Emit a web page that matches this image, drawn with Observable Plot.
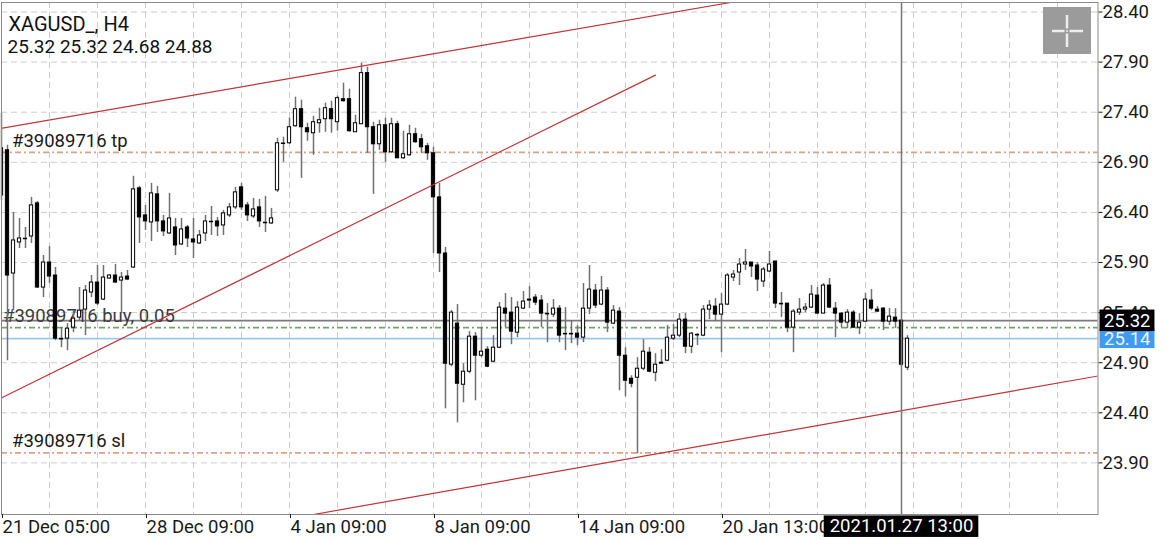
<!DOCTYPE html>
<html><head><meta charset="utf-8">
<script src="https://cdn.jsdelivr.net/npm/d3@7"></script>
<script src="https://cdn.jsdelivr.net/npm/@observablehq/plot@0.6"></script>
<style>
body{margin:0;background:#fff;}
#chart{position:relative;width:1170px;height:540px;overflow:hidden;}
svg{font-family:Roboto, sans-serif;display:block;}
</style></head><body><div id="chart"></div>
<script>
// ---- data (XAGUSD_, H4 bars, index 0 = 21 Dec 05:00) ----
const opens = [26.57,27.02,25.79,26.10,26.14,26.16,26.49,25.65,25.90,25.77,25.14,25.14,25.25,25.35,25.43,25.60,25.70,25.53,25.74,25.77,25.72,25.76,25.85,26.64,26.37,26.30,26.58,26.31,26.19,26.25,26.08,26.25,26.13,26.09,26.19,26.31,26.31,26.27,26.37,26.45,26.65,26.47,26.36,26.45,26.30,26.29,26.62,27.09,27.09,27.26,27.43,27.24,27.19,27.29,27.33,27.43,27.30,27.53,27.53,27.20,27.28,27.79,27.25,27.08,27.27,27.00,27.28,26.94,26.97,27.18,27.13,27.06,26.99,26.55,25.99,24.88,25.29,24.68,24.81,25.16,24.97,25.03,24.91,25.05,25.44,25.40,25.20,25.44,25.53,25.55,25.52,25.39,25.38,25.44,25.19,25.19,25.19,25.15,25.44,25.62,25.48,25.62,25.29,25.41,24.97,24.74,24.75,24.84,25.00,24.80,24.89,24.92,25.14,25.17,25.33,25.06,25.18,25.17,25.43,25.46,25.38,25.48,25.75,25.80,25.88,25.90,25.87,25.71,25.81,25.91,25.49,25.49,25.25,25.40,25.43,25.45,25.57,25.39,25.67,25.44,25.39,25.30,25.40,25.25,25.31,25.52,25.43,25.44,25.31,25.35,25.32,24.85];
const highs = [27.39,27.07,26.40,26.34,26.25,26.55,26.51,25.97,26.06,25.85,25.25,25.29,25.42,25.65,25.67,25.77,25.87,25.87,25.78,25.88,25.80,25.82,26.76,26.66,26.47,26.69,26.66,26.37,26.59,26.34,26.34,26.27,26.34,26.22,26.37,26.46,26.35,26.42,26.49,26.65,26.69,26.50,26.54,26.53,26.56,26.44,27.14,27.15,27.34,27.55,27.52,27.29,27.36,27.44,27.49,27.51,27.56,27.69,27.63,27.37,27.89,27.85,27.30,27.32,27.34,27.34,27.31,27.21,27.27,27.24,27.18,27.09,27.05,26.69,26.05,25.42,25.48,24.89,25.21,25.20,25.25,25.06,25.17,25.50,25.59,25.55,25.51,25.61,25.66,25.58,25.57,25.49,25.53,25.47,25.45,25.32,25.27,25.69,25.87,25.68,25.76,25.65,25.47,25.45,25.05,24.77,24.95,25.13,25.05,24.99,25.03,25.27,25.28,25.39,25.39,25.20,25.19,25.47,25.52,25.54,25.59,25.79,25.82,25.94,26.03,25.90,25.90,25.85,26.01,25.91,25.60,25.49,25.43,25.54,25.49,25.67,25.65,25.69,25.74,25.50,25.40,25.43,25.42,25.39,25.59,25.63,25.46,25.45,25.44,25.44,25.32,25.17];
const lows = [26.52,24.92,25.42,26.04,26.04,26.09,25.64,25.55,25.69,25.12,25.05,25.02,25.20,25.32,25.17,25.55,25.47,25.52,25.73,25.69,25.39,25.72,25.84,26.09,26.22,26.11,26.20,26.16,26.18,25.97,26.07,26.05,25.94,26.08,26.11,26.17,26.16,26.17,26.35,26.43,26.42,26.31,26.34,26.25,26.20,26.28,26.60,26.90,27.08,27.25,26.74,27.11,26.97,27.19,27.20,27.19,27.21,27.50,27.20,27.20,27.28,26.99,26.58,27.02,26.90,26.99,26.94,26.93,26.96,27.09,26.99,26.92,25.99,25.80,24.44,24.86,24.30,24.50,24.79,24.52,24.95,24.85,24.90,25.04,25.25,25.08,25.15,25.43,25.44,25.47,25.25,25.10,25.35,25.10,25.02,25.09,25.07,25.10,25.38,25.44,25.47,25.20,25.28,24.62,24.56,24.65,23.99,24.82,24.80,24.71,24.89,24.91,25.12,25.15,24.99,24.99,25.07,25.16,25.33,25.31,25.00,25.47,25.71,25.67,25.82,25.75,25.61,25.65,25.80,25.44,25.35,25.20,25.00,25.37,25.40,25.44,25.39,25.39,25.44,25.15,25.25,25.24,25.24,25.18,25.30,25.42,25.40,25.22,25.27,25.24,24.86,24.82];
const closes = [27.04,25.77,26.12,26.14,26.14,26.47,25.65,25.90,25.76,25.14,25.14,25.24,25.34,25.42,25.62,25.70,25.49,25.75,25.77,25.70,25.75,25.73,26.63,26.35,26.31,26.59,26.31,26.21,26.34,26.07,26.23,26.14,26.10,26.17,26.31,26.31,26.26,26.39,26.45,26.60,26.45,26.37,26.43,26.31,26.30,26.34,27.09,27.09,27.25,27.43,27.25,27.20,27.30,27.32,27.44,27.33,27.54,27.51,27.21,27.29,27.79,27.25,27.08,27.27,27.00,27.28,26.94,26.98,27.18,27.10,27.05,26.99,26.55,25.99,24.89,25.40,24.69,24.81,25.16,24.97,25.01,24.86,25.05,25.45,25.39,25.21,25.45,25.51,25.52,25.50,25.39,25.39,25.44,25.17,25.19,25.19,25.15,25.44,25.63,25.47,25.62,25.30,25.42,24.97,24.72,24.69,24.84,25.01,24.81,24.88,24.90,25.15,25.17,25.33,25.06,25.19,25.18,25.43,25.47,25.38,25.48,25.77,25.78,25.88,25.90,25.86,25.73,25.83,25.88,25.49,25.49,25.25,25.41,25.43,25.45,25.58,25.39,25.67,25.45,25.39,25.30,25.40,25.25,25.30,25.53,25.44,25.41,25.31,25.36,25.31,24.88,25.14];

const yTicks = [23.9, 24.4, 24.9, 25.4, 25.9, 26.4, 26.9, 27.4, 27.9, 28.4];
const gridBars = [0,8,16,24,32,40,48,56,64,72,80,88,96,104,112,120,128,136,144,152,160,168,176];
const xLabelBars = [0, 24, 48, 72, 96, 120];
const xLabels = ["21 Dec 05:00", "28 Dec 09:00", "4 Jan 09:00", "8 Jan 09:00", "14 Jan 09:00", "20 Jan 13:00"];

const trendId = ["a", "a", "b", "b", "c", "c"];
const trendBar = [-1, 122, -1, 109, 52, 183];
const trendPrice = [27.23, 28.50, 24.52, 27.77, 23.385, 24.77];

const tpPrice = 27.00, slPrice = 24.00, orderPrice = 25.32, askPrice = 25.25, bidPrice = 25.14;
const tpLabel = "#39089716 tp", slLabel = "#39089716 sl", orderLabel = "#39089716 buy, 0.05";
const crossBar = 150, crossLabel = "2021.01.27 13:00";
const titleText = "XAGUSD_, H4", ohlcText = "25.32 25.32 24.68 24.88";

// ---- build ----
const candles = opens.map((o, i) => ({i, open: o, high: highs[i], low: lows[i], close: closes[i]}));
const bodies = candles.filter(d => Math.abs(d.close - d.open) >= 0.005);
const dojis = candles.filter(d => Math.abs(d.close - d.open) < 0.005);
const trend = trendId.map((id, k) => ({id, i: trendBar[k], p: trendPrice[k]}));
const HW = 0.27;
const FS = 18.5;
const dashDot = "6,3,2,3";

const chart = Plot.plot({
  width: 1170, height: 540,
  marginLeft: 1, marginRight: 72.5, marginTop: 2, marginBottom: 26,
  style: {fontFamily: "Roboto, sans-serif", background: "#fff", overflow: "visible"},
  x: {type: "linear", domain: [0, 182.75], axis: null},
  y: {type: "linear", domain: [23.385, 28.495], axis: null},
  marks: [
    Plot.ruleY(yTicks, {stroke: "#cccccc", strokeDasharray: "6,4"}),
    Plot.ruleX(gridBars, {stroke: "#cccccc", strokeDasharray: "6,4"}),
    Plot.ruleY([tpPrice, slPrice], {stroke: "#dca184", strokeWidth: 1.8, strokeDasharray: dashDot}),
    Plot.ruleY([askPrice], {stroke: "#6fa36b", strokeWidth: 1.8, strokeDasharray: dashDot}),
    Plot.ruleY([bidPrice], {stroke: "#9cc8ef", strokeWidth: 1.6}),
    Plot.ruleY([orderPrice], {stroke: "#7a7a7a", strokeWidth: 1.6}),
    Plot.text([titleText], {text: d => d, frameAnchor: "top-left", textAnchor: "start", lineAnchor: "top", dx: 7, dy: 14, fontSize: 20, fill: "#111"}),
    Plot.text([ohlcText], {text: d => d, frameAnchor: "top-left", textAnchor: "start", lineAnchor: "top", dx: 6, dy: 37, fontSize: 19, fill: "#111"}),
    Plot.text([tpPrice], {y: d => d, text: () => tpLabel, frameAnchor: "left", textAnchor: "start", lineAnchor: "middle", dx: 10.5, dy: -11.5, fontSize: FS, fill: "#1a1a1a"}),
    Plot.text([slPrice], {y: d => d, text: () => slLabel, frameAnchor: "left", textAnchor: "start", lineAnchor: "middle", dx: 10.5, dy: -11.5, fontSize: FS, fill: "#1a1a1a"}),
    Plot.text([orderPrice], {y: d => d, text: () => orderLabel, frameAnchor: "left", textAnchor: "start", lineAnchor: "middle", dx: 1.5, dy: -5, fontSize: FS, fill: "#3c3c3c"}),
    Plot.ruleX(candles, {x: "i", y1: "low", y2: "high", stroke: "#707070", strokeWidth: 1.5}),
    Plot.rect(bodies, {x1: d => d.i - HW, x2: d => d.i + HW, y1: "open", y2: "close",
      fill: d => d.close > d.open ? "#ffffff" : "#000000", stroke: "#000", strokeWidth: 1, clip: true}),
    Plot.ruleY(dojis, {y: "close", x1: d => d.i - HW - 0.08, x2: d => d.i + HW + 0.08, stroke: "#000", strokeWidth: 1.6, clip: true}),
    Plot.line(trend, {x: "i", y: "p", z: "id", stroke: "#bf3438", strokeWidth: 1.2, clip: true}),
    Plot.ruleX([crossBar], {stroke: "#777", strokeWidth: 1.5}),
    Plot.frame({stroke: "#8a8a8a"}),
    Plot.axisY({ticks: yTicks, anchor: "right", tickSize: 4, tickPadding: 0.5, fontSize: FS, color: "#1a1a1a", tickFormat: d => d.toFixed(2), label: null}),
    Plot.axisX({ticks: xLabelBars, anchor: "bottom", tickSize: 4, tickPadding: 1.5, fontSize: FS, color: "#1a1a1a", textAnchor: "start", dx: 1,
      tickFormat: d => xLabels[xLabelBars.indexOf(d)], label: null}),
    Plot.text([bidPrice], {y: d => d, text: d => d.toFixed(2), frameAnchor: "right", textAnchor: "start", lineAnchor: "middle", dx: 6, fontSize: FS, fill: "#eaf4ff", ariaLabel: () => "tag-blue"}),
    Plot.text([orderPrice], {y: d => d, text: d => d.toFixed(2), frameAnchor: "right", textAnchor: "start", lineAnchor: "middle", dx: 6, fontSize: FS, fill: "#ffffff", ariaLabel: () => "tag-black"}),
    Plot.text([crossBar], {x: d => d, text: () => crossLabel, frameAnchor: "bottom", textAnchor: "middle", lineAnchor: "middle", dy: 12, fontSize: FS, fill: "#ffffff", ariaLabel: () => "tag-cross"})
  ]
});

document.getElementById("chart").append(chart);

const svg = d3.select(chart);
function boxify(label, fill, padL, padR, padT, padB) {
  svg.selectAll(`text[aria-label="${label}"]`).each(function() {
    const b = this.getBBox();
    const node = this;
    d3.select(this.parentNode).insert("rect", () => node)
      .attr("transform", node.getAttribute("transform"))
      .attr("x", b.x - padL).attr("y", b.y - padT)
      .attr("width", b.width + padL + padR).attr("height", b.height + padT + padB)
      .attr("fill", fill);
  });
}
boxify("tag-blue", "#3d9bf0", 4.5, 4, -1.5, -1.5);
boxify("tag-black", "#000000", 4.5, 4, 0, -0.5);
boxify("tag-cross", "#000000", 6, 5, 0, -0.5);

// top-right crosshair tool button
const btn = svg.append("g");
btn.append("rect").attr("x", 1043).attr("y", 7).attr("width", 48).attr("height", 47).attr("fill", "#9b9b9b");
const wl = [[1052, 31, 1064.5, 31], [1069.5, 31, 1083, 31], [1067, 15, 1067, 28.5], [1067, 33.5, 1067, 47]];
wl.forEach(([x1, y1, x2, y2]) => btn.append("line").attr("x1", x1).attr("y1", y1).attr("x2", x2).attr("y2", y2)
  .attr("stroke", "#eeeeee").attr("stroke-width", 2.5));
btn.append("circle").attr("cx", 1067).attr("cy", 31).attr("r", 1).attr("fill", "#eeeeee");
</script>
</body></html>
